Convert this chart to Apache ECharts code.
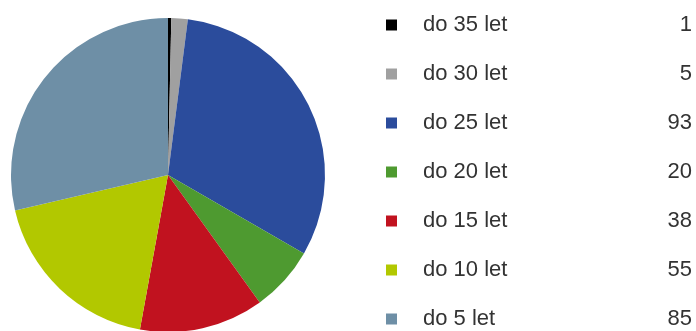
<!DOCTYPE html>
<html>
<head>
<meta charset="utf-8">
<script src="https://cdn.jsdelivr.net/npm/echarts@6/dist/echarts.min.js"></script>
<style>
  html, body { margin: 0; padding: 0; background: #ffffff; }
  #chart { width: 696px; height: 331px; }
</style>
</head>
<body>
<div id="chart"></div>
<script>
// Length-of-service groups and their counts
const categories = ['do 35 let', 'do 30 let', 'do 25 let', 'do 20 let', 'do 15 let', 'do 10 let', 'do 5 let'];
const counts = [1, 5, 93, 20, 38, 55, 85];
const colors = ['#000000', '#a0a0a0', '#2b4c9c', '#4e9a30', '#c1121f', '#b2c800', '#6e8fa6'];

const chart = echarts.init(document.getElementById('chart'), null, { renderer: 'canvas' });

const pieData = categories.map((name, i) => ({
  name: name,
  value: counts[i],
  itemStyle: { color: colors[i] }
}));

const valueOf = {};
categories.forEach((n, i) => { valueOf[n] = counts[i]; });

const FONT = 'Liberation Sans, Arial, sans-serif';

chart.setOption({
  animation: false,
  backgroundColor: '#ffffff',
  legend: {
    orient: 'vertical',
    left: 386,
    top: 14,
    height: 400,
    padding: 0,
    itemWidth: 11,
    itemHeight: 11,
    itemGap: 27,
    icon: 'rect',
    selectedMode: false,
    data: categories,
    formatter: function (name) {
      return '{n|' + name + '}{v|' + valueOf[name] + '}';
    },
    textStyle: {
      fontFamily: FONT,
      fontSize: 22,
      color: '#333333',
      lineHeight: 21,
      rich: {
        n: { width: 229, padding: [0, 0, 0, 21], fontSize: 22, lineHeight: 21, color: '#333333', fontFamily: FONT },
        v: { width: 40, align: 'right', fontSize: 22, lineHeight: 21, color: '#333333', fontFamily: FONT }
      }
    }
  },
  series: [{
    type: 'pie',
    center: [168, 175],
    radius: 157,
    startAngle: 90,
    clockwise: true,
    label: { show: false },
    labelLine: { show: false },
    emphasis: { disabled: true },
    itemStyle: { borderWidth: 0 },
    data: pieData
  }]
});
</script>
</body>
</html>
